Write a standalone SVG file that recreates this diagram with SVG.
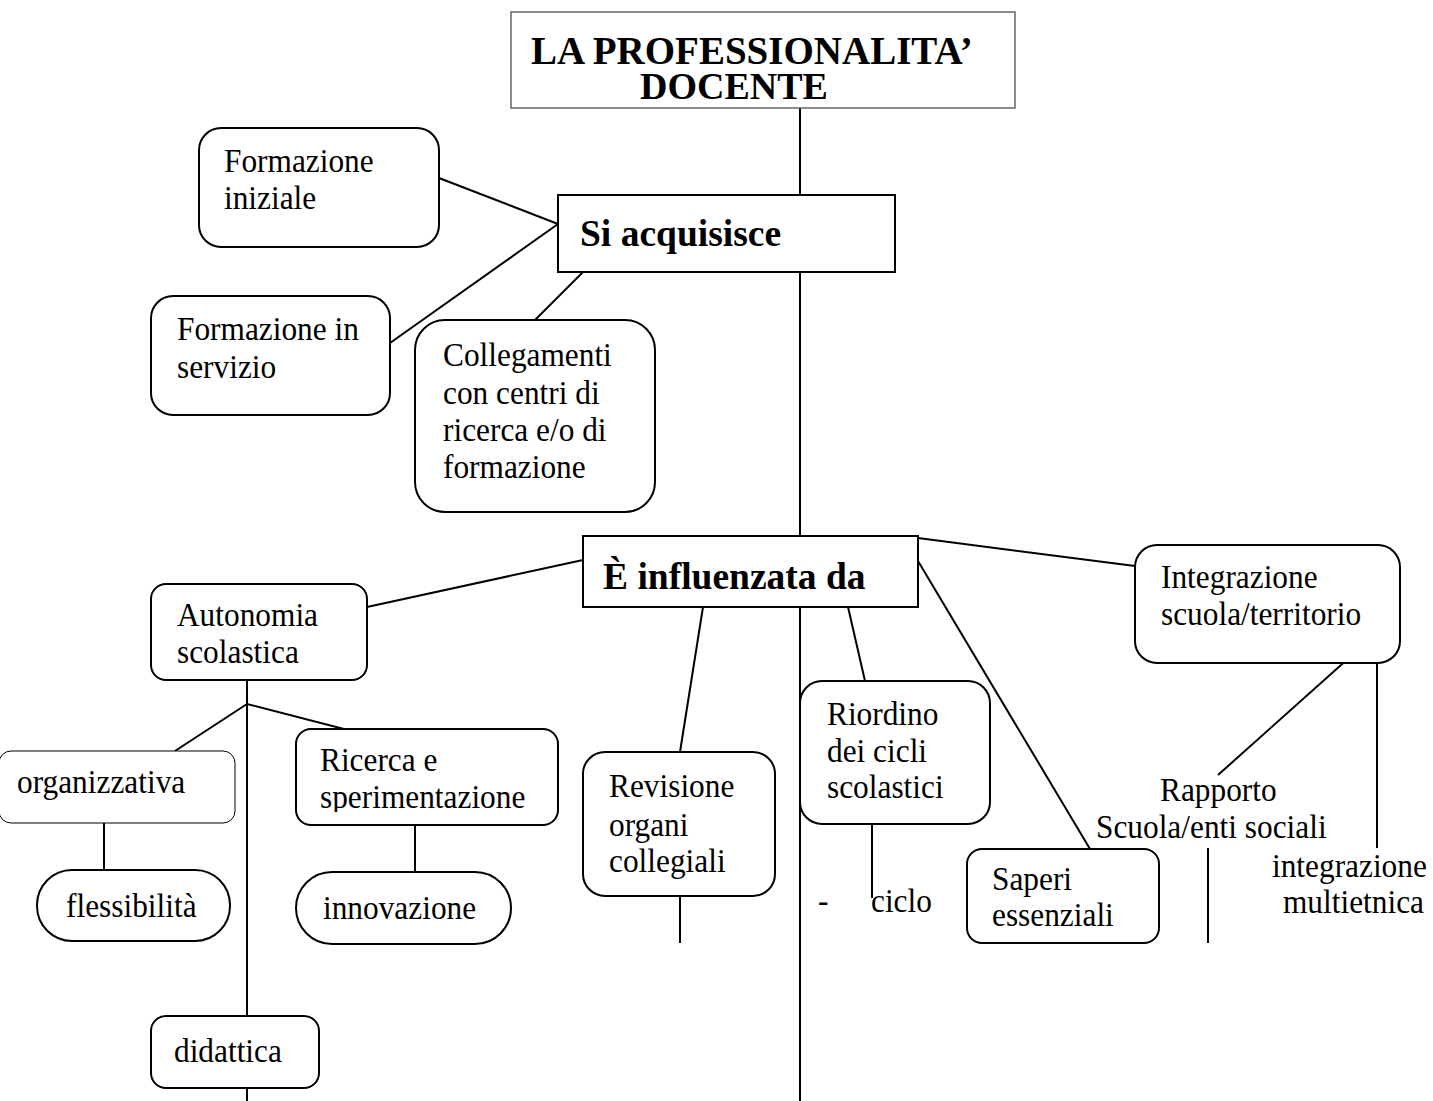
<svg xmlns="http://www.w3.org/2000/svg" width="1433" height="1101" viewBox="0 0 1433 1101">
<style>
.b{fill:#fff;stroke:#000;stroke-width:2}
.t{font-family:"Liberation Serif","Times New Roman",serif;font-size:33px;fill:#000;transform-box:fill-box;transform-origin:left center;transform:scaleX(0.95)}
.h{font-family:"Liberation Serif","Times New Roman",serif;font-weight:bold;fill:#000}
.c line,.c polyline{stroke:#000;stroke-width:2;fill:none}
</style>
<rect width="1433" height="1101" fill="#fff"/>
<g class="c" id="connectors">
<line x1="800" y1="108" x2="800" y2="195"/>
<line x1="800" y1="272" x2="800" y2="536"/>
<line x1="800" y1="607" x2="800" y2="1101"/>
<line x1="439" y1="178" x2="558" y2="224"/>
<line x1="390" y1="343" x2="558" y2="224"/>
<line x1="583" y1="272" x2="535" y2="320"/>
<line x1="367" y1="607" x2="583" y2="560"/>
<line x1="247" y1="680" x2="247" y2="1016"/>
<line x1="247" y1="1088" x2="247" y2="1101"/>
<polyline points="175,751 247,704 344,729"/>
<line x1="104" y1="823" x2="104" y2="870"/>
<line x1="415" y1="825" x2="415" y2="872"/>
<line x1="703" y1="607" x2="680" y2="752"/>
<line x1="680" y1="896" x2="680" y2="943"/>
<line x1="848" y1="607" x2="865" y2="681"/>
<line x1="872" y1="824" x2="872" y2="898"/>
<line x1="918" y1="561" x2="1090" y2="849"/>
<line x1="918" y1="538" x2="1135" y2="566"/>
<line x1="1350" y1="657" x2="1218" y2="775"/>
<line x1="1377" y1="657" x2="1377" y2="848"/>
<line x1="1208" y1="848" x2="1208" y2="943"/>
</g>
<g id="title">
<rect x="511" y="12" width="504" height="96" fill="#fff" stroke="#666" stroke-width="1.5"/>
<text class="h" x="531" y="64" font-size="39">LA PROFESSIONALITA’</text>
<text class="h" x="640" y="99" font-size="38">DOCENTE</text>
</g>
<g id="si-acquisisce">
<rect class="b" x="558" y="195" width="337" height="77"/>
<text class="h" x="580" y="246" font-size="37.5">Si acquisisce</text>
</g>
<g id="formazione-iniziale">
<rect class="b" x="199" y="128" width="240" height="119" rx="22"/>
<text class="t" x="224" y="172">Formazione</text>
<text class="t" x="224" y="209">iniziale</text>
</g>
<g id="formazione-servizio">
<rect class="b" x="151" y="296" width="239" height="119" rx="22"/>
<text class="t" x="177" y="340">Formazione in</text>
<text class="t" x="177" y="378">servizio</text>
</g>
<g id="collegamenti">
<rect class="b" x="415" y="320" width="240" height="192" rx="30"/>
<text class="t" x="443" y="366">Collegamenti</text>
<text class="t" x="443" y="404">con centri di</text>
<text class="t" x="443" y="441">ricerca e/o di</text>
<text class="t" x="443" y="478">formazione</text>
</g>
<g id="influenzata">
<rect class="b" x="583" y="536" width="335" height="71"/>
<text class="h" x="603" y="589" font-size="37.5">È influenzata da</text>
</g>
<g id="autonomia">
<rect class="b" x="151" y="584" width="216" height="96" rx="15"/>
<text class="t" x="177" y="626">Autonomia</text>
<text class="t" x="177" y="663">scolastica</text>
</g>
<g id="organizzativa">
<rect x="-1" y="751" width="236" height="72" rx="12" fill="#fff" stroke="#000" stroke-width="1"/>
<text class="t" x="17" y="793">organizzativa</text>
</g>
<g id="flessibilita">
<rect class="b" x="37" y="870" width="193" height="71" rx="35"/>
<text class="t" x="66" y="917">flessibilità</text>
</g>
<g id="ricerca">
<rect class="b" x="296" y="729" width="262" height="96" rx="15"/>
<text class="t" x="320" y="771">Ricerca e</text>
<svg x="296" y="729" width="262" height="83" overflow="hidden"><text class="t" x="24" y="79">sperimentazione</text></svg>
</g>
<g id="innovazione">
<rect class="b" x="296" y="872" width="215" height="72" rx="36"/>
<text class="t" x="323" y="919">innovazione</text>
</g>
<g id="didattica">
<rect class="b" x="151" y="1016" width="168" height="72" rx="15"/>
<text class="t" x="174" y="1062">didattica</text>
</g>
<g id="revisione">
<rect class="b" x="583" y="752" width="192" height="144" rx="22"/>
<text class="t" x="609" y="797">Revisione</text>
<text class="t" x="609" y="836">organi</text>
<text class="t" x="609" y="872">collegiali</text>
</g>
<g id="riordino">
<rect class="b" x="800" y="681" width="190" height="143" rx="22"/>
<text class="t" x="827" y="725">Riordino</text>
<text class="t" x="827" y="762">dei cicli</text>
<text class="t" x="827" y="798">scolastici</text>
</g>
<g id="ciclo">
<text class="t" x="818" y="912">-</text>
<text class="t" x="871" y="912">ciclo</text>
</g>
<g id="saperi">
<rect class="b" x="967" y="849" width="192" height="94" rx="15"/>
<text class="t" x="992" y="890">Saperi</text>
<text class="t" x="992" y="926">essenziali</text>
</g>
<g id="integrazione-territorio">
<rect class="b" x="1135" y="545" width="265" height="118" rx="22"/>
<text class="t" x="1161" y="588">Integrazione</text>
<text class="t" x="1161" y="625">scuola/territorio</text>
</g>
<g id="rapporto">
<text class="t" x="1160" y="801">Rapporto</text>
<text class="t" x="1096" y="838">Scuola/enti sociali</text>
</g>
<g id="multietnica">
<text class="t" x="1272" y="877">integrazione</text>
<text class="t" x="1283" y="913">multietnica</text>
</g>
</svg>
